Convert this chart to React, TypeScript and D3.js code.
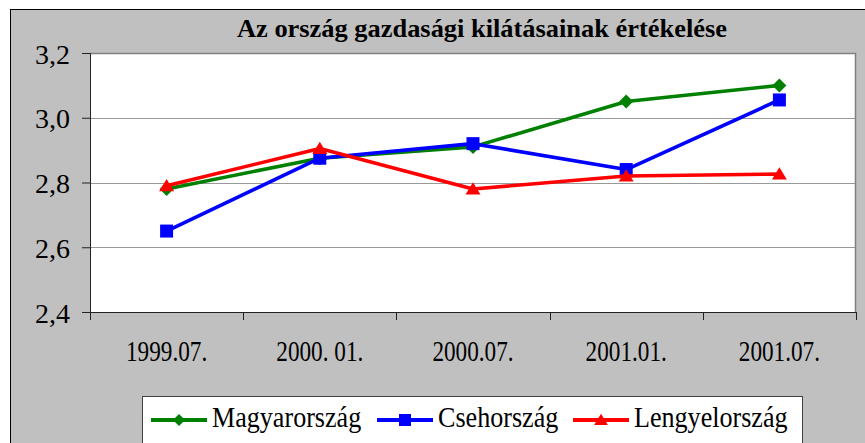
import React, { useEffect, useRef } from 'react';
import * as d3 from 'd3';

const periods = ['1999.07.', '2000. 01.', '2000.07.', '2001.01.', '2001.07.'];
const magyar = [2.78, 2.875, 2.91, 3.05, 3.1];
const cseh = [2.65, 2.875, 2.92, 2.84, 3.055];
const lengyel = [2.79, 2.905, 2.78, 2.82, 2.826];
const yTicks = [2.4, 2.6, 2.8, 3.0, 3.2];

const seriesList = [
  { name: 'Magyarország', values: magyar, color: '#008000', marker: 'diamond' },
  { name: 'Csehország', values: cseh, color: '#0000FF', marker: 'square' },
  { name: 'Lengyelország', values: lengyel, color: '#FF0000', marker: 'triangle' },
];

const App = () => {
  const svgRef = useRef(null);
  const width = 865, height = 443;
  const plot = { left: 90, top: 53, right: 856, bottom: 312 };
  const font = 'Liberation Serif, Tinos, Times New Roman, Times, DejaVu Serif, serif';

  useEffect(() => {
    const svg = d3.select(svgRef.current);
    svg.selectAll('*').remove();

    // outer chart area
    svg.append('rect')
      .attr('x', 10.5).attr('y', 9.5)
      .attr('width', 862).attr('height', 450)
      .attr('fill', '#C0C0C0').attr('stroke', '#000').attr('stroke-width', 1);

    svg.append('text')
      .attr('x', 482).attr('y', 37)
      .attr('text-anchor', 'middle')
      .style('font-family', font).attr('font-weight', 'bold')
      .attr('font-size', 25)
      .attr('textLength', 490).attr('lengthAdjust', 'spacingAndGlyphs')
      .text('Az ország gazdasági kilátásainak értékelése');

    const x = d3.scaleBand().domain(periods).range([plot.left, plot.right]);
    const y = d3.scaleLinear().domain([2.4, 3.2]).range([plot.bottom, plot.top]);

    svg.append('rect')
      .attr('x', plot.left).attr('y', plot.top)
      .attr('width', plot.right - plot.left).attr('height', plot.bottom - plot.top)
      .attr('fill', '#fff');

    // gridlines
    svg.append('g').selectAll('line')
      .data(yTicks.filter(t => t > 2.4 && t < 3.2))
      .join('line')
      .attr('x1', plot.left).attr('x2', plot.right)
      .attr('y1', d => Math.round(y(d)) + 0.5).attr('y2', d => Math.round(y(d)) + 0.5)
      .attr('stroke', '#999').attr('stroke-width', 1);

    // plot border top/right
    svg.append('path')
      .attr('d', `M${plot.left},${plot.top + 0.5}H${plot.right - 0.5}V${plot.bottom}`)
      .attr('fill', 'none').attr('stroke', '#808080').attr('stroke-width', 1.5);

    // y axis
    const yAxis = svg.append('g')
      .attr('transform', `translate(${plot.left},0)`)
      .call(d3.axisLeft(y).tickValues(yTicks).tickSize(8).tickPadding(12)
        .tickFormat(d => d3.format('.1f')(d).replace('.', ',')));
    yAxis.selectAll('path, line').attr('stroke', '#222');
    yAxis.selectAll('text')
      .style('font-family', font).attr('font-size', 28).attr('fill', '#000')
      .attr('dy', 10);

    // x axis
    const xAxis = svg.append('g')
      .attr('transform', `translate(0,${plot.bottom})`)
      .call(d3.axisBottom(x).tickSize(0).tickFormat(() => ''));
    xAxis.select('.domain').attr('stroke', '#222');
    xAxis.selectAll('.tick').remove();
    const edges = [...periods.map(p => x(p)), plot.right];
    xAxis.selectAll('line.edge')
      .data(edges).join('line')
      .attr('class', 'edge')
      .attr('x1', d => Math.round(d) + 0.5).attr('x2', d => Math.round(d) + 0.5)
      .attr('y1', 0).attr('y2', 8)
      .attr('stroke', '#222');
    xAxis.selectAll('g.lbl')
      .data(periods).join('g')
      .attr('class', 'lbl')
      .attr('transform', d => `translate(${x(d) + x.bandwidth() / 2},48.5) scale(0.8,1)`)
      .append('text')
      .attr('text-anchor', 'middle')
      .attr('fill', '#000')
      .style('font-family', font).attr('font-size', 29)
      .text(d => d);

    const cx = (i) => x(periods[i]) + x.bandwidth() / 2;

    const markerPath = (type, s) => {
      if (type === 'diamond') return `M0,${-s}L${s},0L0,${s}L${-s},0Z`;
      if (type === 'square') return `M${-s},${-s}H${s}V${s}H${-s}Z`;
      return `M0,${-s * 1.05}L${s * 1.15},${s * 0.85}H${-s * 1.15}Z`;
    };

    const line = d3.line().x((d, i) => cx(i)).y(d => y(d));

    seriesList.forEach(s => {
      const g = svg.append('g');
      g.append('path')
        .attr('d', line(s.values))
        .attr('fill', 'none').attr('stroke', s.color).attr('stroke-width', 3.6)
        .attr('stroke-linejoin', 'round');
      g.selectAll('path.m')
        .data(s.values).join('path')
        .attr('class', 'm')
        .attr('transform', (d, i) => `translate(${cx(i)},${y(d)})`)
        .attr('d', markerPath(s.marker, s.marker === 'diamond' ? 7 : 6.5))
        .attr('fill', s.color);
    });

    // legend
    const legend = svg.append('g');
    legend.append('rect')
      .attr('x', 142.5).attr('y', 396.5)
      .attr('width', 660).attr('height', 60)
      .attr('fill', '#fff').attr('stroke', '#404040').attr('stroke-width', 1);
    const itemX = [151, 377, 573];
    seriesList.forEach((s, i) => {
      const g = legend.append('g').attr('transform', `translate(${itemX[i]},420)`);
      g.append('line')
        .attr('x1', 0).attr('x2', 56).attr('y1', 0).attr('y2', 0)
        .attr('stroke', s.color).attr('stroke-width', 3.8);
      g.append('path')
        .attr('transform', 'translate(28,0)')
        .attr('d', markerPath(s.marker, 6))
        .attr('fill', s.color);
      g.append('g')
        .attr('transform', 'translate(61,7) scale(0.9,1)')
        .append('text')
        .style('font-family', font).attr('font-size', 29)
        .text(s.name);
    });
  }, []);

  return (
    <svg ref={svgRef} width={width} height={height}
      style={{ position: 'absolute', left: 0, top: 0, background: '#fff' }} />
  );
};

export default App;
